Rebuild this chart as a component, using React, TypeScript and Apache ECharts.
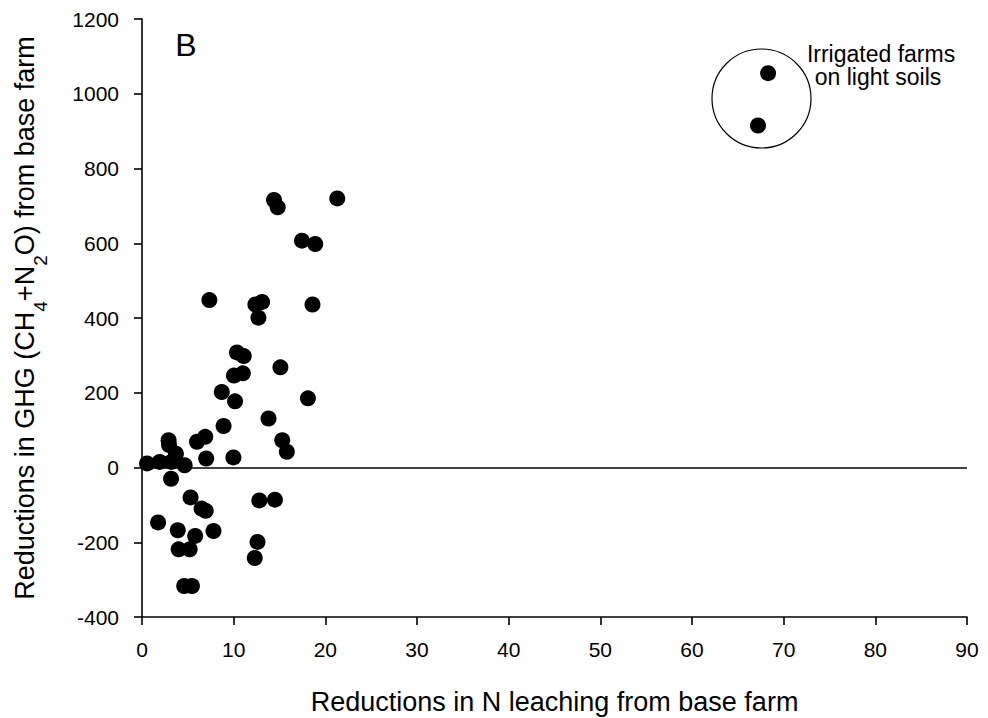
import React, { useEffect, useRef } from "react";
import * as echarts from "echarts";

const xValues: number[] = [
  14.4, 14.8, 21.3, 17.45, 18.9, 7.35, 12.37, 13.1, 12.7, 18.6,
  10.36, 11.1, 10.03, 11.0, 15.1, 8.7, 10.15, 18.1, 13.8, 8.9,
  6.9, 6.0, 15.3, 15.8, 2.9, 2.95, 3.7, 7.0, 9.97, 0.55,
  1.93, 3.2, 4.65, 3.17, 5.3, 6.5, 6.95, 1.75, 3.9, 5.8,
  7.8, 4.0, 5.2, 12.8, 14.5, 12.6, 12.3, 4.6, 5.45, 68.3, 67.2,
];
const yValues: number[] = [
  716, 696, 720, 607, 598, 448, 436, 443, 401, 436,
  308, 298, 246, 252, 268, 202, 177, 185, 131, 111,
  82, 69, 73, 42, 73, 60, 37, 24, 27, 11,
  15, 15, 6, -30, -80, -110, -116, -147, -168, -183,
  -170, -219, -219, -88, -86, -199, -242, -317, -317, 1055, 915,
];

const xTitle = "Reductions in N leaching from base farm";
const yTitleParts = ["Reductions in GHG (CH", "4", "+N", "2", "O) from base farm"];
const panelLabel = "B";
const noteLines = ["Irrigated farms", "on light soils"];

const FONT = "'Liberation Sans', Arial, Helvetica, sans-serif";

export default function App() {
  const ref = useRef<HTMLDivElement>(null);
  useEffect(() => {
    if (!ref.current) return;
    const chart = echarts.init(ref.current, null, { renderer: "svg" });
    const data = xValues.map((x, i) => [x, yValues[i]]);
    const yName =
      `{a|${yTitleParts[0]}}{s|${yTitleParts[1]}}{a|${yTitleParts[2]}}{s|${yTitleParts[3]}}{a|${yTitleParts[4]}}`;
    chart.setOption({
      animation: false,
      backgroundColor: "#ffffff",
      grid: { left: 142, right: 21, top: 19, bottom: 101, outerBoundsMode: "none" },
      xAxis: {
        type: "value",
        min: 0,
        max: 90,
        interval: 10,
        name: xTitle,
        nameLocation: "middle",
        nameGap: 71,
        nameTextStyle: { fontFamily: FONT, fontSize: 27, color: "#000" },
        axisLine: { onZero: false, lineStyle: { color: "#000", width: 1.6 } },
        axisTick: { show: true, inside: false, length: 8, lineStyle: { color: "#000", width: 1.6 } },
        axisLabel: { fontFamily: FONT, fontSize: 21, color: "#000", margin: 22 },
        splitLine: { show: false },
      },
      yAxis: {
        type: "value",
        min: -400,
        max: 1200,
        interval: 200,
        name: yName,
        nameLocation: "middle",
        nameGap: 92,
        nameTextStyle: {
          fontFamily: FONT,
          color: "#000",
          rich: {
            a: { fontFamily: FONT, fontSize: 27, color: "#000", lineHeight: 51, verticalAlign: "middle" },
            s: { fontFamily: FONT, fontSize: 19, color: "#000", lineHeight: 19, verticalAlign: "bottom" },
          },
        },
        axisLine: { show: true, onZero: false, lineStyle: { color: "#000", width: 1.6 } },
        axisTick: { show: true, inside: false, length: 8, lineStyle: { color: "#000", width: 1.6 } },
        axisLabel: {
          fontFamily: FONT,
          fontSize: 21,
          color: "#000",
          margin: 23,
          formatter: (v: number) => String(v),
        },
        splitLine: { show: false },
      },
      series: [
        {
          type: "scatter",
          data,
          symbol: "circle",
          symbolSize: 16,
          itemStyle: { color: "#000", opacity: 1 },
          markLine: {
            silent: true,
            symbol: "none",
            label: { show: false },
            lineStyle: { color: "#000", width: 1.5, type: "solid" },
            data: [{ yAxis: 0 }],
          },
        },
      ],
      graphic: [
        {
          type: "text",
          x: 186,
          y: 45,
          style: { text: panelLabel, fontFamily: FONT, fontSize: 32, fill: "#000", align: "center", verticalAlign: "middle" },
        },
        {
          type: "ellipse",
          shape: { cx: 761.5, cy: 98.5, rx: 49.5, ry: 49.5 },
          style: { fill: "none", stroke: "#000", lineWidth: 1.2 },
        },
        {
          type: "text",
          x: 881,
          y: 53.5,
          style: { text: noteLines[0], fontFamily: FONT, fontSize: 23, fill: "#000", align: "center", verticalAlign: "middle" },
        },
        {
          type: "text",
          x: 878,
          y: 77,
          style: { text: noteLines[1], fontFamily: FONT, fontSize: 23, fill: "#000", align: "center", verticalAlign: "middle" },
        },
      ],
    });
    return () => chart.dispose();
  }, []);
  return <div ref={ref} style={{ width: 988, height: 718, position: "absolute", left: 0, top: 0 }} />;
}
